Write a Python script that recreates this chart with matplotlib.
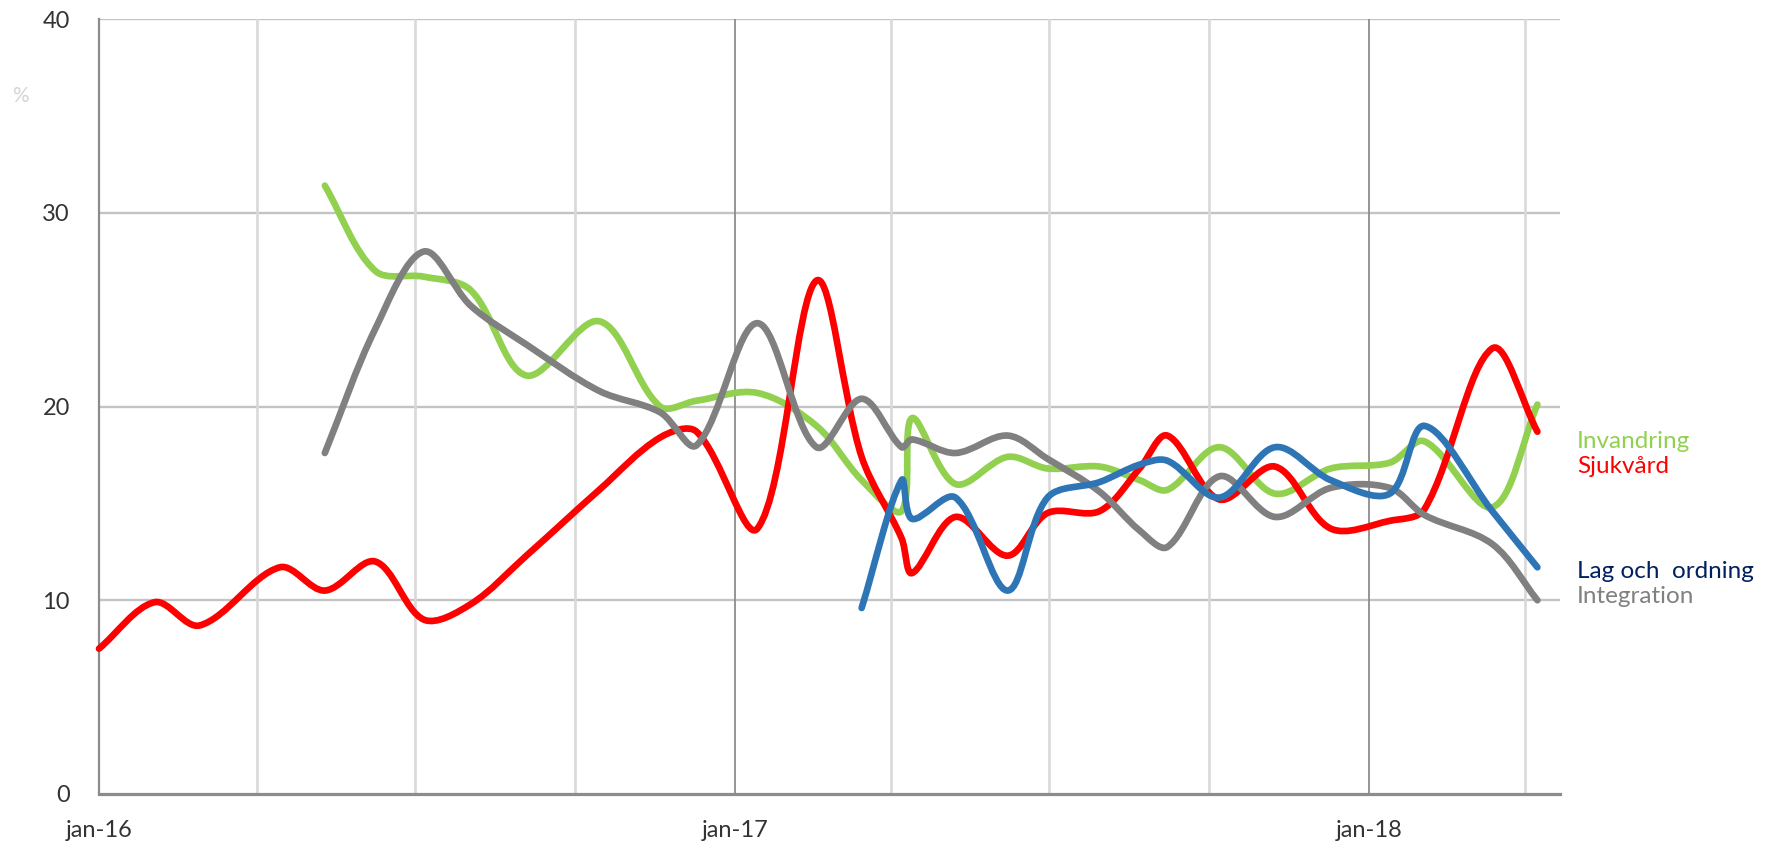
import matplotlib
matplotlib.use('Agg')
import matplotlib.pyplot as plt
import matplotlib.dates as mdates
from matplotlib.path import Path
from matplotlib.patches import PathPatch
from matplotlib.ticker import FixedLocator, FixedFormatter
import numpy as np
import pandas as pd

nan = np.nan

dates = ['2016-01-01', '2016-02-02', '2016-02-28', '2016-04-14', '2016-05-10',
         '2016-06-08', '2016-07-06', '2016-08-02', '2016-09-03', '2016-10-15',
         '2016-11-19', '2016-12-10', '2017-01-14', '2017-02-17', '2017-03-15',
         '2017-04-07', '2017-04-13', '2017-05-08', '2017-06-07', '2017-06-30',
         '2017-07-30', '2017-08-22', '2017-09-07', '2017-10-07', '2017-11-08',
         '2017-12-10', '2018-01-13', '2018-02-02', '2018-03-13', '2018-04-08']

sjukvard = [7.5, 9.9, 8.7, 11.7, 10.5, 12.0, 9.0, 9.8, 12.3, 15.7,
            18.4, 18.7, 13.7, 26.5, 17.4, 13.2, 11.4, 14.3, 12.3, 14.5,
            14.6, 16.8, 18.5, 15.2, 16.9, 13.7, 14.1, 14.7, 23.0, 18.7]

invandring = [nan, nan, nan, nan, 31.4, 27.0, 26.7, 26.0, 21.6, 24.4,
              20.0, 20.3, 20.7, 19.0, 16.2, 14.6, 19.4, 16.0, 17.4, 16.8,
              16.9, 16.2, 15.7, 17.9, 15.5, 16.8, 17.1, 18.2, 14.8, 20.1]

lag_och_ordning = [nan, nan, nan, nan, nan, nan, nan, nan, nan, nan,
                   nan, nan, nan, nan, 9.6, 16.2, 14.2, 15.3, 10.5, 15.3,
                   16.1, 17.0, 17.2, 15.3, 17.9, 16.2, 15.5, 19.0, 14.6, 11.7]

integration = [nan, nan, nan, nan, 17.6, 24.0, 28.0, 25.2, 23.2, 20.8,
               19.7, 18.0, 24.3, 17.9, 20.4, 17.9, 18.3, 17.6, 18.5, 17.3,
               15.6, 13.6, 12.75, 16.4, 14.3, 15.8, 15.8, 14.4, 12.9, 10.0]

series_names = ['Invandring', 'Sjukvård', 'Lag och  ordning', 'Integration']
xtick_dates = ['2016-01-01', '2017-01-01', '2018-01-01']
xtick_labels = ['jan-16', 'jan-17', 'jan-18']
quarter_dates = ['2016-04-01', '2016-07-01', '2016-10-01', '2017-04-01',
                 '2017-07-01', '2017-10-01', '2018-04-01']
yticks = [0, 10, 20, 30, 40]

# ---------------- layout / style ----------------
W, H = 1769, 849
fig = plt.figure(figsize=(W / 100, H / 100), dpi=100)
ax = fig.add_axes([99 / W, 1 - 794 / H, (1560 - 99) / W, (794 - 19) / H])

xnum = mdates.date2num(pd.to_datetime(dates))
ax.set_xlim(mdates.date2num(pd.Timestamp('2016-01-01')),
            mdates.date2num(pd.Timestamp('2018-04-21')))
ax.set_ylim(0, 40)

for s in ['top', 'right']:
    ax.spines[s].set_visible(False)
ax.spines['left'].set_color('#8c8c8c')
ax.spines['left'].set_linewidth(1.6)
ax.spines['bottom'].set_color('#8c8c8c')
ax.spines['bottom'].set_linewidth(2.3)
ax.spines['left'].set_zorder(3)
ax.spines['bottom'].set_zorder(3)

# horizontal grid
for v in yticks[1:]:
    ax.axhline(v, color='#c3c3c3', lw=1.7, zorder=1)
# vertical grid
for d in quarter_dates:
    ax.axvline(mdates.date2num(pd.Timestamp(d)), color='#d9d9d9', lw=1.9, zorder=1)
for d in xtick_dates[1:]:
    ax.axvline(mdates.date2num(pd.Timestamp(d)), color='#8c8c8c', lw=1.3, zorder=1.5)

tick_font = 'Lato'
ax.xaxis.set_major_locator(FixedLocator(mdates.date2num(pd.to_datetime(xtick_dates))))
ax.xaxis.set_major_formatter(FixedFormatter(xtick_labels))
ax.set_yticks(yticks)
ax.tick_params(axis='both', length=0, labelsize=17, labelcolor='#333333')
ax.tick_params(axis='x', pad=19)
ax.tick_params(axis='y', pad=21)
for lab in ax.get_xticklabels() + ax.get_yticklabels():
    lab.set_family(tick_font)

fig.text(20 / W, 1 - 96 / H, '%', color='#d4d4d4', fontsize=15,
         family=tick_font, ha='center', va='center')


def smooth_path(xs, ys):
    pts = ax.transData.transform(np.column_stack([xs, ys]))
    n = len(pts)
    verts = [pts[0]]
    codes = [Path.MOVETO]
    for i in range(n - 1):
        p0 = pts[i - 1] if i > 0 else pts[i]
        p1 = pts[i]
        p2 = pts[i + 1]
        p3 = pts[i + 2] if i + 2 < n else pts[i + 1]
        d01 = np.hypot(*(p1 - p0))
        d12 = np.hypot(*(p2 - p1))
        d23 = np.hypot(*(p3 - p2))
        c1 = p1 + (p2 - p0) * d12 / (d01 + d12) / 3.0
        c2 = p2 - (p3 - p1) * d12 / (d12 + d23) / 3.0
        verts += [c1, c2, p2]
        codes += [Path.CURVE4] * 3
    verts = ax.transData.inverted().transform(np.array(verts))
    return Path(verts, codes)


colors = {'Invandring': '#92d050', 'Sjukvård': '#ff0000',
          'Lag och  ordning': '#2e75b6', 'Integration': '#808080'}
values = {'Invandring': invandring, 'Sjukvård': sjukvard,
          'Lag och  ordning': lag_och_ordning, 'Integration': integration}
zorders = {'Invandring': 4, 'Sjukvård': 5, 'Integration': 6, 'Lag och  ordning': 7}

for name in series_names:
    y = np.array(values[name], dtype=float)
    m = ~np.isnan(y)
    path = smooth_path(xnum[m], y[m])
    patch = PathPatch(path, facecolor='none', edgecolor=colors[name], lw=4.8,
                      capstyle='round', joinstyle='round', zorder=zorders[name],
                      clip_on=False)
    ax.add_patch(patch)

# end labels
label_y = {'Invandring': 18.2, 'Sjukvård': 16.9, 'Lag och  ordning': 11.5, 'Integration': 10.2}
label_col = {'Invandring': '#92d050', 'Sjukvård': '#ff0000',
             'Lag och  ordning': '#002060', 'Integration': '#808080'}
trans = matplotlib.transforms.blended_transform_factory(ax.transAxes, ax.transData)
for name in series_names:
    ax.text((1577 - 99) / (1560 - 99), label_y[name], name, transform=trans,
            color=label_col[name], fontsize=17.5, family='Lato',
            ha='left', va='center')

fig.savefig('out.png', dpi=100, facecolor='white')
